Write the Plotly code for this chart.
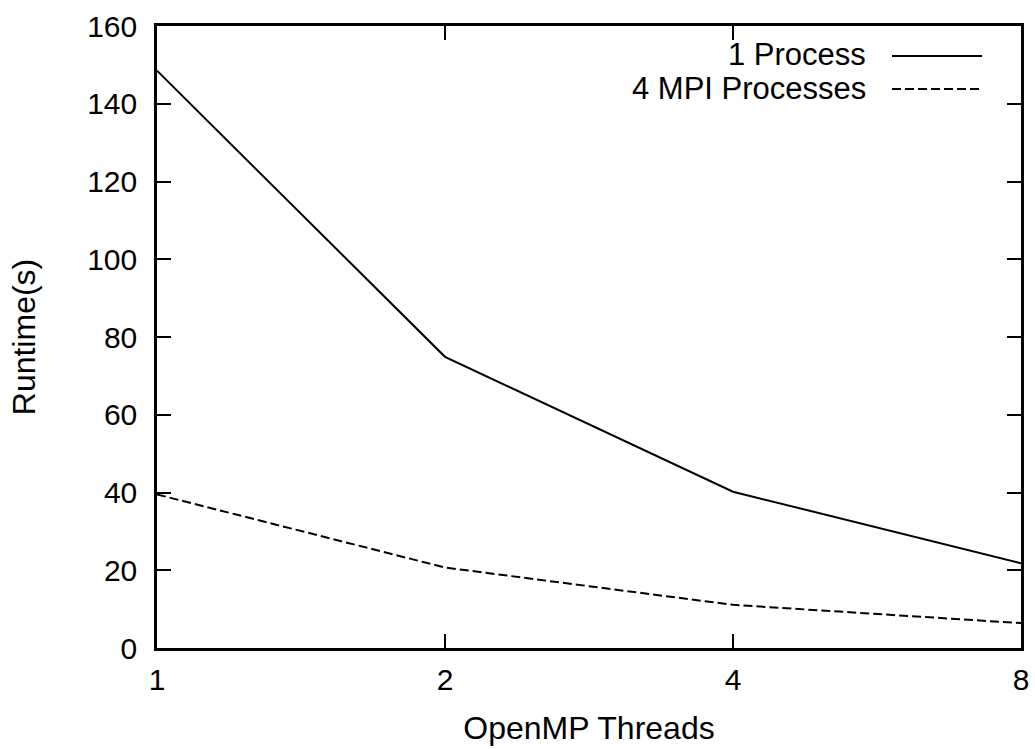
import plotly.graph_objects as go

threads = [1, 2, 4, 8]
one_process = [148.5, 74.9, 40.2, 21.8]
four_mpi = [39.5, 20.7, 11.1, 6.4]
series_names = ["1 Process", "4 MPI Processes"]
y_ticks = [0, 20, 40, 60, 80, 100, 120, 140, 160]

FONT = "Liberation Sans, Arial, Helvetica, sans-serif"
DASH = "9px,4px"

fig = go.Figure()
fig.add_trace(go.Scatter(x=threads, y=one_process, mode="lines", name=series_names[0],
                         line=dict(color="black", width=2), showlegend=False))
fig.add_trace(go.Scatter(x=threads, y=four_mpi, mode="lines", name=series_names[1],
                         line=dict(color="black", width=2, dash=DASH), showlegend=False))

# gnuplot-style key: right-aligned text with sample line to its right
PL, PT, PW, PH = 157, 26, 864, 622
key_rows = [(series_names[0], "solid", 55, 56), (series_names[1], DASH, 88, 89)]
for name, dash, ytext, yline in key_rows:
    fig.add_annotation(xref="paper", yref="paper", x=(868 - PL) / PW, y=1 - (ytext - PT) / PH,
                       text=name, showarrow=False, xanchor="right", yanchor="middle",
                       font=dict(family=FONT, size=31, color="black"))
    fig.add_shape(type="line", xref="paper", yref="paper",
                  x0=(892 - PL) / PW, x1=(982 - PL) / PW,
                  y0=1 - (yline - PT) / PH, y1=1 - (yline - PT) / PH,
                  line=dict(color="black", width=2, dash=dash))

axis_common = dict(showgrid=False, zeroline=False, showline=True, linecolor="black",
                   linewidth=2.5, ticks="inside", ticklen=14, tickwidth=2, tickcolor="black",
                   mirror="allticks", automargin=False,
                   tickfont=dict(family=FONT, size=30, color="black"))

fig.update_xaxes(type="log", range=[0, 0.90309], tickvals=threads,
                 ticktext=[str(t) for t in threads],
                 title=dict(text="OpenMP Threads", font=dict(family=FONT, size=32, color="black"),
                            standoff=22),
                 ticklabelstandoff=3, **axis_common)
fig.update_yaxes(range=[0, 160], tickvals=y_ticks,
                 title=dict(text="Runtime(s)", font=dict(family=FONT, size=32, color="black"),
                            standoff=42),
                 ticklabelstandoff=11, **axis_common)

fig.update_layout(width=1035, height=749, margin=dict(l=157, r=14, t=26, b=101),
                  paper_bgcolor="white", plot_bgcolor="white",
                  font=dict(family=FONT, size=30, color="black"))

fig.write_html("out.html")
